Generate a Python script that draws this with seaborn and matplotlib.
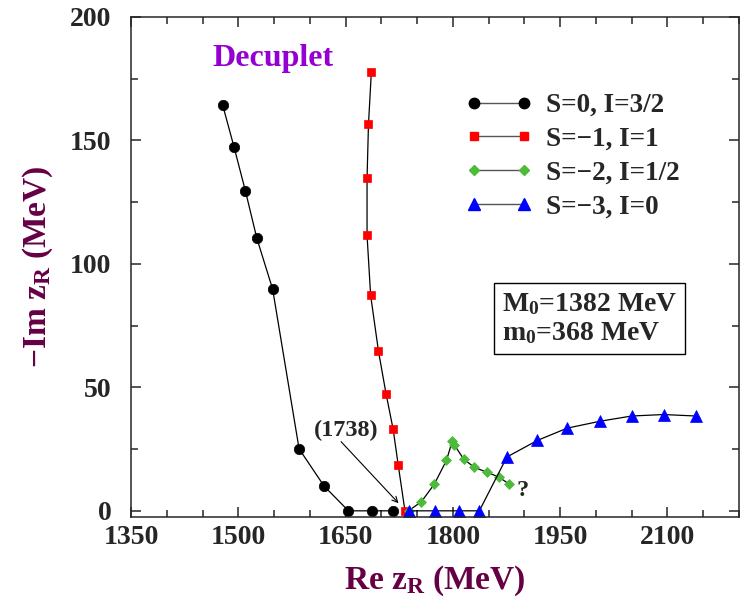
import numpy as np
import pandas as pd
import seaborn as sns
import matplotlib
matplotlib.use('Agg')
import matplotlib.pyplot as plt
from matplotlib.lines import Line2D
from matplotlib.ticker import MultipleLocator

# pole positions (MeV)
s0_re = [1478, 1494, 1510, 1526, 1548, 1585, 1620, 1654, 1687, 1716]
s0_im = [164.5, 147.4, 129.5, 110.3, 89.8, 25.1, 10.0, 0, 0, 0]

s1_re = [1686, 1682, 1680, 1680, 1685, 1696, 1706.5, 1716.5, 1723.5, 1733]
s1_im = [177.7, 156.5, 134.7, 111.6, 87.3, 64.6, 47.5, 33.0, 18.7, 0]

s2_re = [1738, 1756, 1774, 1791, 1799, 1802, 1815, 1830, 1847, 1864, 1878]
s2_im = [0, 3.7, 10.8, 20.4, 28.1, 26.7, 21.0, 17.6, 15.7, 13.7, 11.0]

s3_re = [1738, 1775, 1808, 1837, 1875.5, 1918, 1960, 2006, 2050, 2094.5, 2139.5]
s3_im = [0, 0, 0, 0, 21.8, 28.5, 33.5, 36.3, 38.4, 39.0, 38.4]

labels = ['S=0, I=3/2', 'S=\u22121, I=1', 'S=\u22122, I=1/2', 'S=\u22123, I=0']
colors = ['black', '#ff0000', '#4cbb3a', '#0000ff']
markers = ['o', 's', 'D', '^']
msizes = [7.5, 5.5, 5, 8.5]

df = pd.concat([
    pd.DataFrame({'re': s0_re, 'im': s0_im, 'series': labels[0]}),
    pd.DataFrame({'re': s1_re, 'im': s1_im, 'series': labels[1]}),
    pd.DataFrame({'re': s2_re, 'im': s2_im, 'series': labels[2]}),
    pd.DataFrame({'re': s3_re, 'im': s3_im, 'series': labels[3]}),
])

sns.set_style('ticks')
plt.rcParams['font.family'] = ['Liberation Serif', 'DejaVu Serif']
plt.rcParams['font.weight'] = 'bold'
plt.rcParams['axes.labelweight'] = 'bold'
plt.rcParams['mathtext.fontset'] = 'custom'
plt.rcParams['mathtext.rm'] = 'Liberation Serif:bold'
plt.rcParams['mathtext.bf'] = 'Liberation Serif:bold'
plt.rcParams['mathtext.it'] = 'Liberation Serif:bold'
plt.rcParams['mathtext.default'] = 'bf'

fig = plt.figure(figsize=(7.43, 6.05), dpi=100)
ax = fig.add_axes([131 / 743, 1 - 517 / 605, 608 / 743, 500 / 605])

handles = []
for lab, c, m, ms in zip(labels, colors, markers, msizes):
    sub = df[df['series'] == lab]
    sns.lineplot(data=sub, x='re', y='im', sort=False, estimator=None,
                 color='black', lw=0.9, marker=m, markersize=ms,
                 markerfacecolor=c, markeredgecolor=c, markeredgewidth=0.5,
                 legend=False, ax=ax)
    handles.append(Line2D([0], [0], color='#555555', lw=1, marker=m, markersize=ms,
                          markerfacecolor=c, markeredgecolor=c))

ax.set_xlim(1350, 2200)
ax.set_ylim(-2.5, 200)
ax.set_xticks(np.arange(1350, 2101, 150))
ax.xaxis.set_minor_locator(MultipleLocator(50))
ax.set_yticks(np.arange(0, 201, 50))
ax.yaxis.set_minor_locator(MultipleLocator(25))
ax.tick_params(which='both', direction='in', top=True, right=True, width=1.1)
ax.tick_params(which='major', length=7)
ax.tick_params(which='minor', length=5)
ax.tick_params(axis='x', labelsize=20, pad=6)
ax.tick_params(axis='y', labelsize=20, pad=14)
for sp in ax.spines.values():
    sp.set_linewidth(1.1)

label_color = '#660044'
ax.set_xlabel('Re z$_R$ (MeV)', fontsize=24, color=label_color, va='center')
ax.xaxis.set_label_coords(0.5, -0.128)
ax.set_ylabel('\u2212Im z$_R$ (MeV)', fontsize=24, color=label_color, va='center')
ax.yaxis.set_label_coords(-0.153, 0.5)

ax.text(1549, 180, 'Decuplet', fontsize=23, color='#9400d3', ha='center', va='baseline')
ax.text(1650.7, 32.4, '(1738)', fontsize=17.5, ha='center', va='center')
ax.annotate('', xy=(1724, 3.1), xytext=(1643.7, 28),
            arrowprops=dict(arrowstyle='->', lw=0.8, color='black', shrinkA=0, shrinkB=0))
ax.text(1897.8, 8.3, '?', fontsize=17.5, ha='center', va='center')

fig.text(502 / 743, 1 - 291 / 605, 'M$_0$=1382 MeV\nm$_0$=368 MeV', fontsize=20,
         ha='left', va='top', linespacing=1.15,
         bbox=dict(boxstyle='square,pad=0.3', fc='white', ec='black', lw=1))

ax.legend(handles, labels, loc='upper left', bbox_to_anchor=(466 / 743, 1 - 93 / 605),
          bbox_transform=fig.transFigure, frameon=False, numpoints=2, fontsize=19.5,
          handlelength=2.45, handletextpad=0.5, labelspacing=0.33, borderpad=0,
          borderaxespad=0)

fig.savefig('out.png', dpi=100)
